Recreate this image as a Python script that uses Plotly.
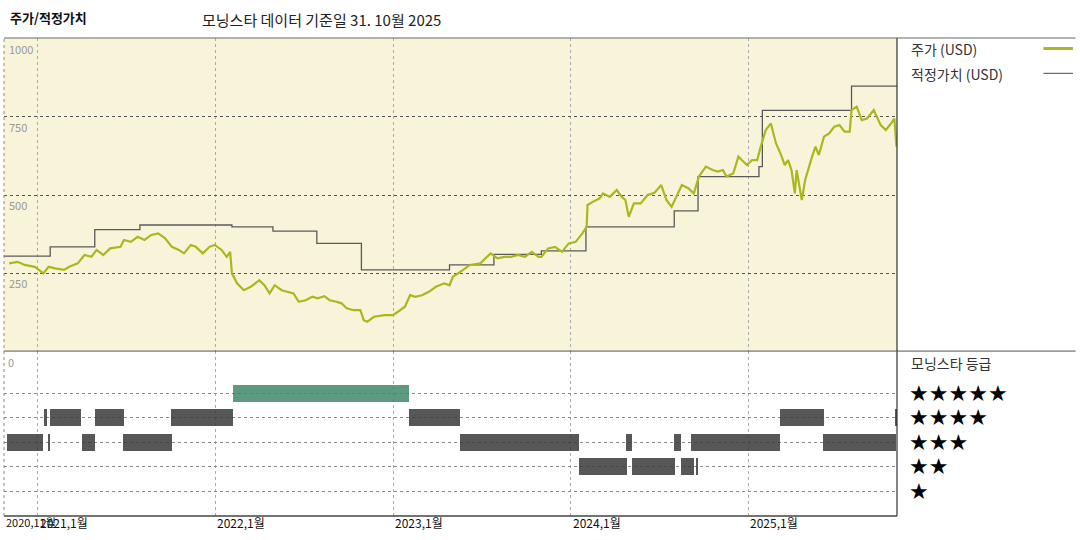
import plotly.graph_objects as go

# price (decimal year, USD)
price_t = [2020.839,2020.887,2020.926,2020.984,2021.032,2021.061,2021.099,2021.148,2021.177,2021.225,2021.263,2021.302,2021.331,2021.369,2021.408,2021.466,2021.485,2021.524,2021.562,2021.601,2021.639,2021.678,2021.717,2021.755,2021.794,
 2021.823,2021.861,2021.890,2021.929,2021.967,2021.996,2022.035,2022.064,2022.083,2022.093,2022.122,2022.160,2022.199,2022.247,2022.276,2022.305,2022.334,2022.373,2022.411,2022.440,2022.469,2022.508,2022.546,2022.575,2022.614,2022.643,2022.681,2022.710,2022.739,2022.778,2022.816,2022.835,2022.855,2022.893,2022.951,2022.999,2023.028,2023.067,2023.096,2023.125,2023.163,2023.202,2023.241,2023.289,2023.318,2023.337,2023.395,2023.433,2023.491,2023.530,2023.549,2023.588,2023.626,2023.665,2023.704,2023.742,2023.781,2023.819,
 2023.835,2023.873,2023.912,2023.951,2023.989,2024.028,2024.066,2024.090,2024.095,2024.124,2024.163,2024.182,2024.221,2024.259,2024.288,2024.308,2024.327,2024.356,2024.394,2024.433,2024.472,2024.510,2024.539,2024.568,2024.587,2024.626,2024.664,2024.693,2024.722,2024.761,2024.799,2024.828,2024.857,2024.877,2024.915,2024.944,2024.963,2024.992,2025.021,2025.050,2025.070,2025.098,2025.127,2025.156,2025.185,2025.205,2025.224,2025.243,2025.262,2025.272,2025.301,2025.320,2025.359,2025.378,2025.397,2025.426,2025.455,2025.484,2025.513,2025.542,2025.571,2025.581,2025.610,2025.639,2025.668,2025.706,2025.745,2025.774,2025.803,2025.822,2025.834]
price_v = [281,286,276,270,249,270,265,260,270,281,308,302,324,308,329,334,356,350,366,356,372,377,361,334,324,
 313,340,334,313,334,340,324,302,318,249,217,195,206,227,211,185,211,195,190,185,158,163,174,169,176,163,158,153,137,131,131,99,94,110,115,115,126,142,179,174,179,190,206,217,211,238,260,276,281,302,313,297,302,302,308,302,318,302,
 302,329,334,318,345,350,377,398,468,478,489,505,494,516,494,484,430,473,473,500,507,532,484,462,484,532,521,505,559,591,580,575,580,559,569,623,612,596,612,612,655,708,729,665,628,596,612,580,505,580,484,548,623,655,628,687,697,719,724,703,703,772,783,740,745,772,724,708,729,745,655]

# fair value steps
fv_t = [2020.81,2021.070,2021.321,2021.575,2022.093,2022.324,2022.571,2022.822,2023.318,2023.568,2023.835,2024.086,2024.583,2024.717,2025.060,2025.079,2025.581,2025.837]
fv_v = [304,334,389,404,398,384,345,260,276,310,321,398,449,559,591,771,849,849]

# star rating periods
rating_start = [2020.829,2021.057,2021.249,2021.481,2023.375,2024.313,2024.583,2024.680,2025.423,
                2021.037,2021.070,2021.321,2021.751,2023.090,2025.176,2025.826,
                2022.098,
                2024.047,2024.346,2024.622,2024.707]
rating_end = [2021.031,2021.070,2021.321,2021.755,2024.047,2024.346,2024.622,2025.176,2025.831,
              2021.051,2021.244,2021.485,2022.098,2023.375,2025.427,2025.837,
              2023.090,
              2024.317,2024.587,2024.693,2024.719]
rating_stars = [3]*9 + [4]*7 + [5] + [2]*4

year_ticks = [2021, 2022, 2023, 2024, 2025]
tick_labels = ["2021,1월", "2022,1월", "2023,1월", "2024,1월", "2025,1월"]
y_ticks = [250, 500, 750, 1000]

FONT = "Noto Sans CJK KR"
X0, X1 = 2020.81, 2025.837

fig = go.Figure()
fig.add_trace(go.Scatter(x=fv_t, y=fv_v, mode="lines", line=dict(color="#5a5a5a", width=1.3, shape="hv"),
                         xaxis="x", yaxis="y", showlegend=False))
fig.add_trace(go.Scatter(x=price_t, y=price_v, mode="lines", line=dict(color="#a9b81e", width=2.2),
                         xaxis="x", yaxis="y", showlegend=False))
colors = ["#3f8a6a" if s == 5 else "#3a3a3a" for s in rating_stars]
fig.add_trace(go.Bar(y=rating_stars, x=[e - s for s, e in zip(rating_start, rating_end)], base=rating_start,
                     orientation="h", width=0.7, marker=dict(color=colors, opacity=0.85, line=dict(width=0)),
                     xaxis="x2", yaxis="y2", showlegend=False))

ax = dict(range=[X0, X1], showgrid=True, gridcolor="#aaa", griddash="dot", gridwidth=1,
          tickvals=year_ticks, showticklabels=False, zeroline=False, showline=False)
fig.update_layout(
    width=1080, height=540, paper_bgcolor="white", plot_bgcolor="rgba(0,0,0,0)",
    margin=dict(l=4, r=183, t=38, b=24),
    font=dict(family=FONT, color="#222"),
    xaxis=dict(ax, anchor="y"),
    xaxis2=dict(ax, anchor="y2", matches="x"),
    yaxis=dict(domain=[0.345, 1], range=[0, 1003], tickvals=[250, 500, 750], showgrid=True,
               gridcolor="#555", griddash="dot", showticklabels=False, zeroline=False),
    yaxis2=dict(domain=[0, 0.345], range=[0, 6.73], tickvals=[1, 2, 3, 4, 5], showgrid=True,
                gridcolor="#888", griddash="dot", showticklabels=False, zeroline=False),
    bargap=0,
)
shapes = [
    dict(type="rect", xref="x", yref="y", x0=X0, x1=X1, y0=0, y1=1003, fillcolor="#f8f4d9", line_width=0, layer="below"),
    dict(type="line", xref="paper", yref="paper", x0=0, x1=1.2, y0=1, y1=1, line=dict(color="#666", width=1)),
    dict(type="line", xref="paper", yref="paper", x0=0, x1=1, y0=0, y1=0, line=dict(color="#444", width=1.5)),
    dict(type="line", xref="paper", yref="paper", x0=1, x1=1, y0=0, y1=1, line=dict(color="#333", width=1.2)),
    dict(type="line", xref="paper", yref="paper", x0=0, x1=1.2, y0=0.345, y1=0.345, line=dict(color="#555", width=1)),
    dict(type="line", xref="paper", yref="paper", x0=0, x1=0, y0=0, y1=1, line=dict(color="#888", width=1, dash="dot")),
    dict(type="line", xref="paper", yref="paper", x0=1.164, x1=1.197, y0=0.978, y1=0.978, line=dict(color="#a9b81e", width=3)),
    dict(type="line", xref="paper", yref="paper", x0=1.164, x1=1.197, y0=0.926, y1=0.926, line=dict(color="#666", width=1.2)),
]
fig.update_layout(shapes=shapes)

ann = [
    dict(text="<b>주가/적정가치</b>", xref="paper", yref="paper", x=4/893, y=1 + 21/478, xanchor="left", yanchor="middle",
         showarrow=False, font=dict(size=13, color="#111")),
    dict(text="모닝스타 데이터 기준일 31. 10월 2025", xref="paper", yref="paper", x=196/893, y=1 + 18/478, xanchor="left",
         yanchor="middle", showarrow=False, font=dict(size=15, color="#222")),
    dict(text="주가 (USD)", xref="paper", yref="paper", x=1 + 12/893, y=1 - 11/478, xanchor="left", yanchor="middle",
         showarrow=False, font=dict(size=14, color="#333")),
    dict(text="적정가치 (USD)", xref="paper", yref="paper", x=1 + 12/893, y=1 - 36/478, xanchor="left", yanchor="middle",
         showarrow=False, font=dict(size=14, color="#333")),
    dict(text="모닝스타 등급", xref="paper", yref="paper", x=1 + 12/893, y=0.345 - 12/478, xanchor="left", yanchor="middle",
         showarrow=False, font=dict(size=14, color="#333")),
    dict(text="0", xref="paper", yref="paper", x=2/893, y=0.345 - 11/478, xanchor="left", yanchor="middle",
         showarrow=False, font=dict(size=11, color="#999")),
    dict(text="2020,11월", xref="paper", yref="paper", x=0, y=-6/478, xanchor="left", yanchor="middle",
         showarrow=False, font=dict(size=11, color="#111")),
]
for s in range(1, 6):
    ann.append(dict(text="★" * s, xref="paper", yref="y2", x=1 + 10/893, y=s, xanchor="left", yanchor="middle",
                    showarrow=False, font=dict(size=22, color="#000", family="DejaVu Sans")))
for v in y_ticks:
    ann.append(dict(text=str(v), xref="paper", yref="y", x=3/893, y=v, xanchor="left", yanchor="top",
                    showarrow=False, font=dict(size=11, color="#999")))
for t, lab in zip(year_ticks, tick_labels):
    ann.append(dict(text=lab, xref="x2", yref="paper", x=t, y=-6/478, xanchor="left", yanchor="middle",
                    showarrow=False, font=dict(size=12, color="#111")))
fig.update_layout(annotations=ann)

fig.write_html("out.html", config={"displayModeBar": False},
               post_script="document.body.style.margin='0';document.body.style.padding='0';")
